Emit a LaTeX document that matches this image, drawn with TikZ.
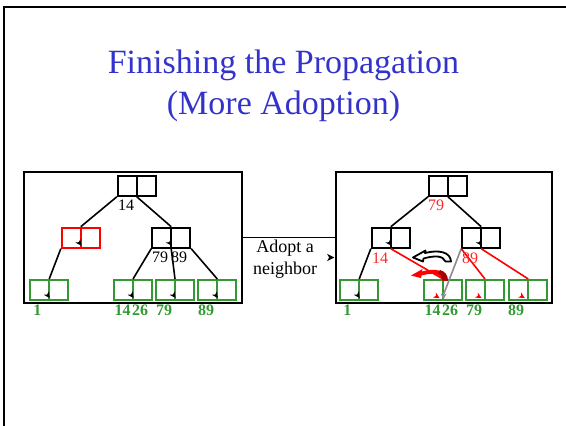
\documentclass[tikz,border=0pt]{standalone}
\usepackage{fontspec}
\setmainfont{Liberation Serif}
\usetikzlibrary{calc,arrows.meta}

\definecolor{titleblue}{RGB}{51,51,204}
\definecolor{leafgreen}{RGB}{51,153,51}
\definecolor{keyred}{RGB}{255,40,40}
\definecolor{darkred}{RGB}{170,0,0}
\definecolor{ptrgray}{RGB}{140,140,140}

\tikzset{
  bnode/.style={draw=#1, line width=2pt, minimum width=38pt, minimum height=20pt,
    inner sep=0pt, fill=none,
    path picture={\draw[#1, line width=2pt] (path picture bounding box.north) -- (path picture bounding box.south);}},
  bnode/.default=black,
  panel/.style={draw, line width=1.8pt, minimum width=218pt, minimum height=131pt, inner sep=0pt},
  link/.style={line width=1.6pt},
  key/.style={font=\fontsize{16}{18}\selectfont, inner sep=0pt},
  leafkey/.style={key, font=\fontsize{16}{18}\selectfont\bfseries, text=leafgreen},
  ptr/.pic={\fill (0,0) -- (-6,-3) -- (-4.3,0) -- (-6,3) -- cycle;},
}

\begin{document}
\begin{tikzpicture}[x=1pt, y=-1pt]
\useasboundingbox (0,0) rectangle (566,426);

% slide frame
\draw[line width=2.2pt] (570,6.7) -- (4,6.7) -- (4,430);

% title
\node[text=titleblue, font=\fontsize{34}{41}\selectfont, align=center] (title) at (283.5,86) {Finishing the Propagation\\(More Adoption)};

% panels
\node[panel] (lpanel) at (133,237.5) {};
\node[panel, minimum width=216pt] (rpanel) at (444.2,237.5) {};

% connector between panels
\draw[line width=1.6pt] (lpanel.east) -- (rpanel.west);
\pic[black, scale=1.2] at ($(rpanel.west)+(-1,20)$) {ptr};
\node[font=\fontsize{18}{21.7}\selectfont, align=center, inner sep=0pt] (adopt) at (285,259) {Adopt a\\neighbor};

% ---------- left tree ----------
\node[bnode] (lroot) at (136.8,185.8) {};
\node[bnode=red] (la) at (80.8,237.7) {};
\node[bnode] (lb) at (171.2,237.7) {};
\node[bnode=leafgreen] (l1) at (49.2,290) {};
\node[bnode=leafgreen] (l2) at (133,290) {};
\node[bnode=leafgreen] (l3) at (175,290) {};
\node[bnode=leafgreen] (l4) at (217.3,290) {};

\draw[link] (lroot.south west) -- (la.north);
\draw[link] (lroot.south) -- (lb.north);
\draw[link] (la.south west) -- (l1.north);
\draw[link] (lb.south west) -- (l2.north);
\draw[link] (lb.south) -- (l3.north);
\draw[link] (lb.south east) -- (l4.north);

\foreach \n in {la,lb,l1,l2,l3,l4}
  \pic[black, rotate=-55] at ($(\n.south)+(0.5,-3)$) {ptr};

\node[key] (k14) at (126,205.7) {14};
\node[key] (k79) at (160,257.7) {79};
\node[key] (k89) at (179,257.7) {89};

\node[leafkey] (g1) at (37.3,310) {1};
\node[leafkey] (g14) at (122.7,310) {14};
\node[leafkey] (g26) at (140,310) {26};
\node[leafkey] (g79) at (164,310) {79};
\node[leafkey] (g89) at (206,310) {89};

% ---------- right tree ----------
\node[bnode] (rroot) at (448,185.8) {};
\node[bnode] (ra) at (390.8,237.7) {};
\node[bnode] (rb) at (481.2,237.7) {};
\node[bnode=leafgreen] (r1) at (359.2,290) {};
\node[bnode=leafgreen] (r2) at (443,290) {};
\node[bnode=leafgreen] (r3) at (485,290) {};
\node[bnode=leafgreen] (r4) at (528.3,290) {};

\draw[link] (rroot.south west) -- (ra.north);
\draw[link] (rroot.south) -- (rb.north);
\draw[link] (ra.south west) -- (r1.north);
\draw[link, ptrgray] (rb.south west) -- ($(r2.south)+(0,-5)$);
\draw[link, red] (ra.south) -- (r2.north);
\draw[link, red] (rb.south west) -- (r3.north);
\draw[link, red] (rb.south) -- (r4.north);

\foreach \n in {ra,rb,r1}
  \pic[black, rotate=-55] at ($(\n.south)+(0.5,-3)$) {ptr};
\pic[ptrgray, rotate=-90] at ($(r2.south)+(0.5,-1.5)$) {ptr};
\foreach \n in {r2,r3,r4}
  \pic[red, rotate=-30] at ($(\n.south)+(-3.5,-3)$) {ptr};

\node[key, text=keyred] (q79) at (436,205.7) {79};
\node[key, text=keyred] (q14) at (380,258) {14};
\node[key, text=keyred] (q89) at (470,258) {89};

\node[leafkey] (h1) at (347.3,310) {1};
\node[leafkey] (h14) at (432.7,310) {14};
\node[leafkey] (h26) at (450,310) {26};
\node[leafkey] (h79) at (474,310) {79};
\node[leafkey] (h89) at (516,310) {89};

% curved swap arrows
\begin{scope}[shift={(412,251)}]
  \draw[line width=1.8pt, line join=round, fill=white]
    (39,10.5) .. controls (38.5,1) and (27,-1.5) .. (13,2) -- (13.5,-0.5) -- (1,6.5)
    -- (11,10.5) -- (11.5,7.5) .. controls (24,4) and (31,5) .. (33.5,10.5) -- cycle;
\end{scope}
\begin{scope}[shift={(411,267.5)}]
  \fill[red]
    (37,13) .. controls (36,3) and (24,0) .. (11,4) -- (11.5,1.5) -- (0,8)
    -- (10,10.5) -- (10.5,8) .. controls (21,5) and (29,6) .. (31.5,13) -- cycle;
  \fill[darkred]
    (37,13) .. controls (36.5,7) and (34,4) .. (29,2.5) -- (27,5.3)
    .. controls (29.5,6.5) and (31,9) .. (31.5,13) -- cycle;
\end{scope}
\end{tikzpicture}
\end{document}
